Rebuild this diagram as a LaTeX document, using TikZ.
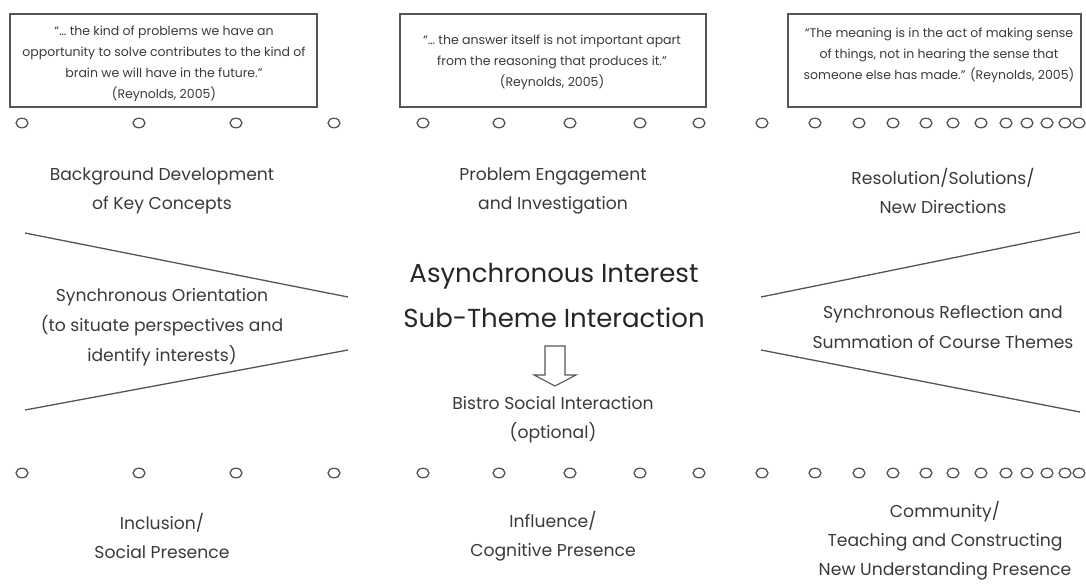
\documentclass[tikz,border=0pt]{standalone}
\usepackage{fontspec}
\usetikzlibrary{shapes.geometric}
\setmainfont{Poppins}
\definecolor{txt}{HTML}{3A3A3A}
\definecolor{ln}{HTML}{555555}
\begin{document}
\begin{tikzpicture}[x=1pt,y=-1pt,
  lbl/.style={text=txt, font=\fontsize{17.2}{29}\selectfont, align=center, inner sep=0pt},
  title/.style={text=black!85, font=\fontsize{26}{45}\selectfont, align=center, inner sep=0pt},
  quote/.style={text=txt, font=\fontsize{12.5}{21}\selectfont, align=center, inner sep=0pt},
  qbox/.style={draw=ln, line width=1.3pt},
  dot/.style={draw=ln, line width=1.3pt, ellipse, minimum width=12pt, minimum height=9.5pt, inner sep=0pt},
  edge/.style={draw=ln, line width=1.3pt},
  hollow/.style={draw=ln, line width=1.1pt, fill=white}]
\useasboundingbox (0,0) rectangle (1086,586);
% quote boxes
\draw[qbox] (10,14) rectangle (317,107);
\draw[qbox] (400,14) rectangle (706,107);
\draw[qbox] (788,14) rectangle (1081,107);
\node[quote] (q1) at (164,64) {“… the kind of problems we have an\\opportunity to solve contributes to the kind of\\brain we will have in the future.”\\(Reynolds, 2005)};
\node[quote] (q2) at (552,62) {“… the answer itself is not important apart\\from the reasoning that produces it.”\\(Reynolds, 2005)};
\node[quote] (q3) at (939,55) {“The meaning is in the act of making sense\\of things, not in hearing the sense that\\someone else has made.” (Reynolds, 2005)};
% dots
\foreach \x [count=\i] in {22,139,236,334,423,499,570,640,699,762,815,859,893,926,953,981,1006,1027,1047,1065,1079}{
  \node[dot] (t\i) at (\x,123) {};
  \node[dot] (b\i) at (\x,473) {};
}
% labels
\node[lbl] (bg) at (162,191) {Background Development\\of Key Concepts};
\node[lbl] (pe) at (553,191) {Problem Engagement\\and Investigation};
\node[lbl] (rs) at (943,191) {Resolution/Solutions/\\New Directions};
\node[lbl, font=\fontsize{17.2}{30}\selectfont] (so) at (162,327) {Synchronous Orientation\\(to situate perspectives and\\identify interests)};
\node[lbl, font=\fontsize{17.2}{30}\selectfont] (sr) at (943,327) {Synchronous Reflection and\\Summation of Course Themes};
\node[title] (ai) at (554,295) {Asynchronous Interest\\Sub-Theme Interaction};
\node[lbl] (bi) at (553,420) {Bistro Social Interaction\\(optional)};
\node[lbl] (in) at (162,536) {Inclusion/\\Social Presence};
\node[lbl] (if) at (553,536) {Influence/\\Cognitive Presence};
\node[lbl] (cm) at (945,541) {Community/\\Teaching and Constructing\\New Understanding Presence};
% funnel lines
\coordinate (l1a) at (25,233); \coordinate (l1b) at (348,297);
\coordinate (l2a) at (348,350); \coordinate (l2b) at (25,410);
\coordinate (r1a) at (761,297); \coordinate (r1b) at (1080,232);
\coordinate (r2a) at (761,350); \coordinate (r2b) at (1080,412);
\draw[edge] (l1a) -- (l1b);
\draw[edge] (l2a) -- (l2b);
\draw[edge] (r1a) -- (r1b);
\draw[edge] (r2a) -- (r2b);
% hollow arrow
\draw[hollow] (545,346) -- (565,346) -- (565,375) -- (576,375) -- (555,386) -- (534,375) -- (545,375) -- cycle;
\end{tikzpicture}
\end{document}
